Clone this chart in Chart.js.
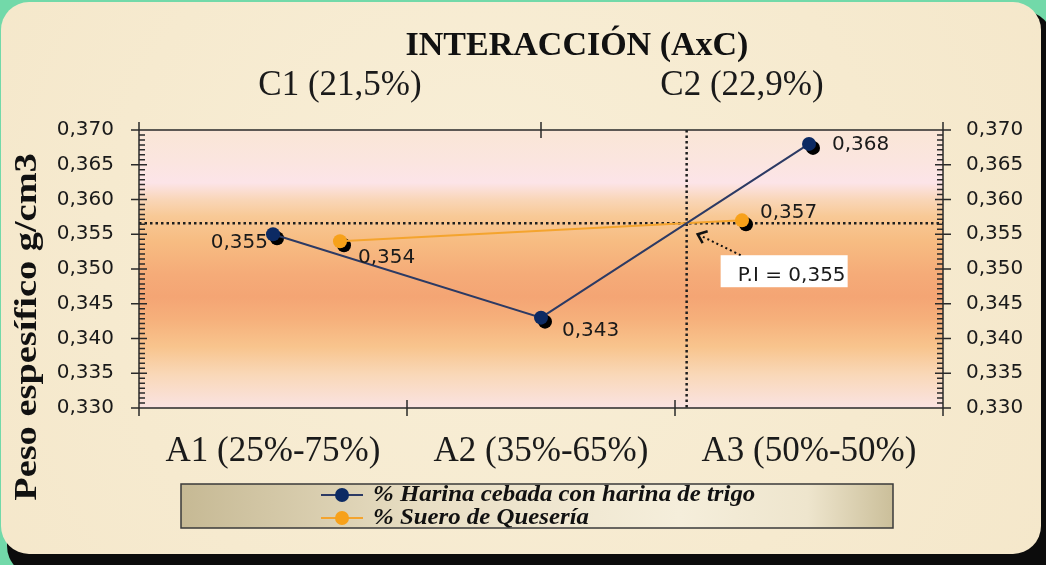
<!DOCTYPE html>
<html lang="es">
<head>
<meta charset="utf-8">
<title>Interacción (AxC)</title>
<script src="https://cdn.jsdelivr.net/npm/chart.js@4.4.1/dist/chart.umd.min.js"></script>
<style>
  html, body { margin: 0; padding: 0; background: #72d9a9; overflow: hidden; }
  canvas { display: block; }
</style>
</head>
<body>
<canvas id="chart" width="1046" height="565"></canvas>
<script>
// Niveles del factor A (eje inferior) y del factor C (eje superior)
const mezclas = ['A1 (25%-75%)', 'A2 (35%-65%)', 'A3 (50%-50%)'];
const sueros = ['C1 (21,5%)', 'C2 (22,9%)'];

// Peso específico medio (g/cm3) de cada nivel
const harinaValores = [0.355, 0.343, 0.368];
const sueroValores = [0.354, 0.357];

const nombresSeries = ['% Harina cebada con harina de trigo', '% Suero de Quesería'];

// Marcas principales del eje de peso específico
const yTicks = [0.330, 0.335, 0.340, 0.345, 0.350, 0.355, 0.360, 0.365, 0.370];

const titulo = 'INTERACCIÓN (AxC)';
const tituloEjeY = 'Peso espesífico g/cm3';
const etiquetaPI = 'P.I = 0,355';

// ---- estilos ----
const colores = {
  harinaLinea: '#2c3a64', harinaPunto: '#0c2a63',
  sueroLinea: '#f4a42e', sueroPunto: '#f7a11a',
  texto: '#1a1a1a', eje: '#2a2a2a'
};
const fuenteSans = '"DejaVu Sans", sans-serif';
const fuenteSerif = '"Liberation Serif", "Times New Roman", serif';

// posición de cada etiqueta de valor respecto a su punto
const posEtiquetas = [
  [{dx: -5, dy: 9, align: 'right'}, {dx: 21, dy: 13, align: 'left'}, {dx: 23, dy: 1, align: 'left'}],
  [{dx: 18, dy: 17, align: 'left'}, {dx: 18, dy: -8, align: 'left'}]
];

const fmt = v => v.toFixed(3).replace('.', ',');

function roundRect(ctx, x, y, w, h, r) {
  ctx.beginPath();
  ctx.moveTo(x + r, y);
  ctx.arcTo(x + w, y, x + w, y + h, r);
  ctx.arcTo(x + w, y + h, x, y + h, r);
  ctx.arcTo(x, y + h, x, y, r);
  ctx.arcTo(x, y, x + w, y, r);
  ctx.closePath();
}

function cruce(p1, p2, p3, p4) {
  const d = (p2.x - p1.x) * (p4.y - p3.y) - (p2.y - p1.y) * (p4.x - p3.x);
  if (Math.abs(d) < 1e-9) return null;
  const t = ((p3.x - p1.x) * (p4.y - p3.y) - (p3.y - p1.y) * (p4.x - p3.x)) / d;
  const u = ((p3.x - p1.x) * (p2.y - p1.y) - (p3.y - p1.y) * (p2.x - p1.x)) / d;
  if (t < 0 || t > 1 || u < 0 || u > 1) return null;
  return {x: p1.x + t * (p2.x - p1.x), y: p1.y + t * (p2.y - p1.y)};
}

// punto de intersección entre las dos líneas de interacción
function puntoInterseccion(chart) {
  const a = chart.getDatasetMeta(0).data, b = chart.getDatasetMeta(1).data;
  for (let i = 0; i < a.length - 1; i++) {
    for (let j = 0; j < b.length - 1; j++) {
      const p = cruce(a[i], a[i + 1], b[j], b[j + 1]);
      if (p) return p;
    }
  }
  return null;
}

const decor = {
  id: 'decor',
  beforeDraw(chart) {
    const {ctx, chartArea: ca, width, height} = chart;
    ctx.save();
    ctx.fillStyle = '#72d9a9';
    ctx.fillRect(0, 0, width, height);
    roundRect(ctx, 7, 11, width, height, 30);
    ctx.fillStyle = '#0c0c0c';
    ctx.fill();
    roundRect(ctx, 1, 2, width - 6, height - 13, 28);
    const fondo = ctx.createRadialGradient(width * 0.45, height * 0.4, 50, width * 0.5, height * 0.5, width * 0.7);
    fondo.addColorStop(0, '#f8eed6');
    fondo.addColorStop(1, '#f4e6c8');
    ctx.fillStyle = fondo;
    ctx.fill();

    // fondo del área de trazado
    const g = ctx.createLinearGradient(0, ca.top, 0, ca.bottom);
    g.addColorStop(0.00, '#fae6d6');
    g.addColorStop(0.12, '#fbe5e0');
    g.addColorStop(0.19, '#fce4e8');
    g.addColorStop(0.25, '#f9d6b8');
    g.addColorStop(0.31, '#f8c996');
    g.addColorStop(0.40, '#f7bc82');
    g.addColorStop(0.52, '#f5ab78');
    g.addColorStop(0.60, '#f4a574');
    g.addColorStop(0.68, '#f6b07b');
    g.addColorStop(0.78, '#f8c48d');
    g.addColorStop(0.88, '#f9d8b8');
    g.addColorStop(1.00, '#fae3e2');
    ctx.fillStyle = g;
    ctx.fillRect(ca.left, ca.top, ca.right - ca.left, ca.bottom - ca.top);
    ctx.restore();
  },
  beforeDatasetsDraw(chart) {
    const {ctx, chartArea: ca} = chart;
    const p = puntoInterseccion(chart);
    ctx.save();
    if (p) {
      ctx.strokeStyle = '#1e1e1e';
      ctx.lineWidth = 2.5;
      ctx.setLineDash([2.5, 3]);
      ctx.beginPath();
      ctx.moveTo(ca.left, p.y); ctx.lineTo(ca.right, p.y);
      ctx.moveTo(p.x, ca.top); ctx.lineTo(p.x, ca.bottom);
      ctx.stroke();
      ctx.setLineDash([]);
    }
    // sombra de los marcadores
    ctx.fillStyle = '#000';
    chart.data.datasets.forEach((ds, i) => {
      chart.getDatasetMeta(i).data.forEach(el => {
        ctx.beginPath();
        ctx.arc(el.x + 4, el.y + 4, el.options.radius, 0, Math.PI * 2);
        ctx.fill();
      });
    });
    ctx.restore();
  },
  afterDatasetsDraw(chart) {
    const {ctx, chartArea: ca, scales} = chart;
    ctx.save();

    // ejes y marcas
    ctx.strokeStyle = colores.eje;
    ctx.lineWidth = 1.5;
    ctx.beginPath();
    ctx.moveTo(ca.left, ca.top); ctx.lineTo(ca.right, ca.top);
    ctx.moveTo(ca.left, ca.bottom); ctx.lineTo(ca.right, ca.bottom);
    ctx.moveTo(ca.left, ca.top - 8); ctx.lineTo(ca.left, ca.bottom + 8);
    ctx.moveTo(ca.right, ca.top - 8); ctx.lineTo(ca.right, ca.bottom + 8);
    const y = scales.y;
    const mayores = y.ticks.map(t => t.value);
    mayores.forEach(v => {
      const py = y.getPixelForValue(v);
      ctx.moveTo(ca.left - 8, py); ctx.lineTo(ca.left + 8, py);
      ctx.moveTo(ca.right - 8, py); ctx.lineTo(ca.right + 8, py);
    });
    for (let i = 0; i < mayores.length - 1; i++) {
      const paso = (mayores[i + 1] - mayores[i]) / 7;
      for (let k = 1; k < 7; k++) {
        const py = y.getPixelForValue(mayores[i] + k * paso);
        ctx.moveTo(ca.left, py); ctx.lineTo(ca.left + 6, py);
        ctx.moveTo(ca.right - 6, py); ctx.lineTo(ca.right, py);
      }
    }
    [['x', ca.bottom], ['x2', ca.top]].forEach(([id, base]) => {
      const s = scales[id];
      const n = s.getLabels().length;
      for (let i = 0; i < n - 1; i++) {
        const px = (s.getPixelForValue(i) + s.getPixelForValue(i + 1)) / 2;
        ctx.moveTo(px, base - 8); ctx.lineTo(px, base + 8);
      }
    });
    ctx.stroke();

    // etiquetas de valor
    ctx.font = '20px ' + fuenteSans;
    ctx.fillStyle = colores.texto;
    ctx.textBaseline = 'middle';
    chart.data.datasets.forEach((ds, i) => {
      chart.getDatasetMeta(i).data.forEach((el, j) => {
        const e = posEtiquetas[i][j];
        ctx.textAlign = e.align;
        ctx.fillText(fmt(ds.data[j]), el.x + e.dx, el.y + e.dy);
      });
    });

    // punto de intersección
    const p = puntoInterseccion(chart);
    if (p) {
      ctx.fillStyle = '#ffffff';
      ctx.fillRect(p.x + 34, p.y + 32, 127, 32);
      ctx.fillStyle = colores.texto;
      ctx.textAlign = 'left';
      ctx.textBaseline = 'alphabetic';
      ctx.font = '20px ' + fuenteSans;
      ctx.fillText(etiquetaPI, p.x + 51, p.y + 58);
      ctx.strokeStyle = '#111';
      ctx.lineWidth = 2;
      ctx.setLineDash([2, 3]);
      ctx.beginPath();
      ctx.moveTo(p.x + 54, p.y + 32);
      ctx.lineTo(p.x + 13, p.y + 12);
      ctx.stroke();
      ctx.setLineDash([]);
      ctx.lineWidth = 2.5;
      ctx.beginPath();
      ctx.moveTo(p.x + 21, p.y + 8);
      ctx.lineTo(p.x + 11, p.y + 11);
      ctx.lineTo(p.x + 16, p.y + 20);
      ctx.stroke();
    }
    ctx.restore();
  },
  afterDraw(chart) {
    const {ctx} = chart;
    ctx.save();
    ctx.fillStyle = '#111';
    // título
    ctx.font = 'bold 34px ' + fuenteSerif;
    ctx.textAlign = 'center';
    ctx.textBaseline = 'alphabetic';
    ctx.fillText(titulo, 577, 55);

    // título del eje vertical
    ctx.save();
    ctx.translate(36, 327);
    ctx.rotate(-Math.PI / 2);
    ctx.scale(1.2, 1);
    ctx.font = 'bold 32px ' + fuenteSerif;
    ctx.fillText(tituloEjeY, 0, 0);
    ctx.restore();

    // leyenda
    const lg = {x: 181, y: 484, w: 712, h: 44};
    const gl = ctx.createLinearGradient(lg.x, 0, lg.x + lg.w, 0);
    gl.addColorStop(0, '#c6b994');
    gl.addColorStop(0.35, '#e9dfc5');
    gl.addColorStop(0.7, '#f5eedb');
    gl.addColorStop(0.88, '#eee5cd');
    gl.addColorStop(1, '#cbbf9a');
    ctx.fillStyle = gl;
    ctx.fillRect(lg.x, lg.y, lg.w, lg.h);
    ctx.strokeStyle = '#3a3a3a';
    ctx.lineWidth = 1.5;
    ctx.strokeRect(lg.x, lg.y, lg.w, lg.h);
    const filas = [495, 518];
    chart.data.datasets.forEach((ds, i) => {
      const fy = filas[i];
      ctx.strokeStyle = ds.borderColor;
      ctx.lineWidth = 2;
      ctx.beginPath();
      ctx.moveTo(321, fy); ctx.lineTo(363, fy);
      ctx.stroke();
      ctx.fillStyle = ds.pointBackgroundColor;
      ctx.beginPath();
      ctx.arc(342, fy, 7, 0, Math.PI * 2);
      ctx.fill();
      ctx.save();
      ctx.translate(373, fy);
      ctx.scale(1.08, 1);
      ctx.fillStyle = '#111';
      ctx.font = 'italic bold 23px ' + fuenteSerif;
      ctx.textAlign = 'left';
      ctx.textBaseline = 'middle';
      ctx.fillText(ds.label, 0, 0);
      ctx.restore();
    });
    ctx.restore();
  }
};

const ejeY = (posicion, ancho, relleno) => ({
  type: 'linear',
  position: posicion,
  min: yTicks[0],
  max: yTicks[yTicks.length - 1],
  afterBuildTicks: s => { s.ticks = yTicks.map(v => ({value: v})); },
  afterFit: s => { s.width = ancho; },
  grid: {display: false, drawTicks: false},
  border: {display: false},
  ticks: {
    padding: relleno,
    color: colores.texto,
    font: {family: fuenteSans, size: 20},
    callback: v => fmt(v)
  }
});

new Chart(document.getElementById('chart'), {
  type: 'line',
  data: {
    datasets: [
      {
        label: nombresSeries[0],
        data: harinaValores,
        xAxisID: 'x', yAxisID: 'y',
        borderColor: colores.harinaLinea,
        borderWidth: 2,
        pointBackgroundColor: colores.harinaPunto,
        pointBorderWidth: 0,
        pointRadius: 7,
        tension: 0
      },
      {
        label: nombresSeries[1],
        data: sueroValores,
        xAxisID: 'x2', yAxisID: 'y',
        borderColor: colores.sueroLinea,
        borderWidth: 2,
        pointBackgroundColor: colores.sueroPunto,
        pointBorderWidth: 0,
        pointRadius: 7,
        tension: 0
      }
    ]
  },
  options: {
    responsive: false,
    animation: false,
    events: [],
    layout: {padding: 0},
    plugins: {legend: {display: false}, tooltip: {enabled: false}, title: {display: false}},
    scales: {
      x: {
        type: 'category', labels: mezclas, position: 'bottom', offset: true,
        afterFit: s => { s.height = 157; },
        grid: {display: false, drawTicks: false, offset: true},
        border: {display: false},
        ticks: {padding: 23, color: colores.texto, font: {family: fuenteSerif, size: 35}, maxRotation: 0}
      },
      x2: {
        type: 'category', labels: sueros, position: 'top', offset: true,
        afterFit: s => { s.height = 130; },
        grid: {display: false, drawTicks: false, offset: true},
        border: {display: false},
        ticks: {padding: 23, color: colores.texto, font: {family: fuenteSerif, size: 35}, maxRotation: 0}
      },
      y: ejeY('left', 139, 25),
      y2: ejeY('right', 103, 23)
    }
  },
  plugins: [decor]
});
</script>
</body>
</html>
